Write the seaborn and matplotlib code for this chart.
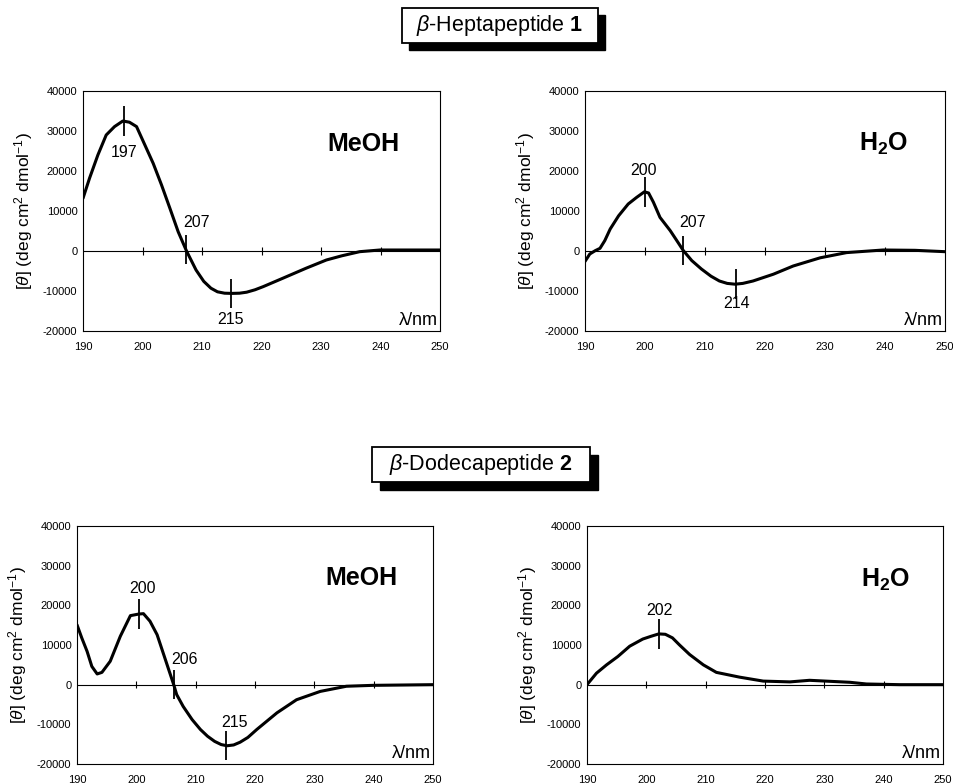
import numpy as np
import pandas as pd
import matplotlib
matplotlib.use("Agg")
import matplotlib.pyplot as plt
from matplotlib.patches import Rectangle
import seaborn as sns

# ---------------- data ----------------
wl_hepta_meoh = [190, 191.1, 192.5, 193.9, 195.3, 196.7, 197.8, 199.0, 200.4, 201.8, 203.2, 204.6, 206.0, 207.4,
                 209.0, 210.3, 211.5, 212.6, 213.8, 215.0, 216.3, 217.5, 218.9, 220.3, 223.6, 227.5, 230.9,
                 233.5, 236.5, 239.9, 250]
th_hepta_meoh = [13170, 18200, 24000, 29000, 31100, 32500, 32200, 31100, 26500, 21900, 16500, 10700, 4800, 0,
                 -4750, -7600, -9300, -10200, -10550, -10600, -10550, -10300, -9700, -8900, -6800, -4300, -2250,
                 -1200, -170, 250, 250]

wl_hepta_h2o = [190, 190.8, 191.7, 192.5, 193.3, 194.2, 195.6, 197.2, 198.6, 199.9, 200.6, 201.4, 202.5, 204.2,
                205.3, 206.4, 207.8, 209.4, 211.0, 212.4, 213.7, 215.0, 216.3, 218, 221.4, 224.7, 229.2, 233.6,
                239.7, 245, 250]
th_hepta_h2o = [-2600, -750, 80, 670, 2600, 5500, 8800, 11750, 13400, 14800, 14500, 12200, 8400, 5100,
                2600, 80, -2400, -4500, -6300, -7500, -8100, -8300, -8100, -7500, -5800, -3750, -1700, -400,
                250, 170, -170]

wl_dodeca_meoh = [190, 190.8, 191.7, 192.5, 193.4, 194.2, 195.6, 197.3, 199.0, 200.4, 201.2, 202.3, 203.5, 204.9,
                  206.3, 206.8, 207.9, 209.4, 210.8, 212.0, 213.2, 214.3, 215.3, 216.4, 217.5, 218.8, 220.3,
                  223.7, 227, 231, 235.4, 239.9, 250]
th_dodeca_meoh = [15100, 11800, 8400, 4600, 2700, 3100, 5900, 12200, 17400, 17800, 17900, 16000, 12600, 6300,
                  0, -2500, -5500, -8800, -11300, -13000, -14300, -15100, -15400, -15200, -14500, -13300, -11300,
                  -7100, -3800, -1700, -400, -170, 0]

wl_dodeca_h2o = [190, 191.6, 193.3, 195.2, 197.2, 199.4, 200.8, 202.1, 203.2, 204.4, 205.6, 207.3, 209.6, 211.8,
                 215.7, 219.7, 224.2, 227.5, 234.3, 237.1, 242.7, 250]
th_dodeca_h2o = [0, 2900, 5000, 7100, 9700, 11500, 12200, 12800, 12700, 11800, 10000, 7600, 5000, 3100,
                 1900, 900, 700, 1100, 600, 170, 0, 0]

# peak markers (wavelength of marker) and their labels
peaks_hepta_meoh = [196.9, 207.3, 214.8]
labels_hepta_meoh = ["197", "207", "215"]
peaks_hepta_h2o = [200.0, 206.4, 215.1]
labels_hepta_h2o = ["200", "207", "214"]
peaks_dodeca_meoh = [200.5, 206.3, 215.1]
labels_dodeca_meoh = ["200", "206", "215"]
peaks_dodeca_h2o = [202.1]
labels_dodeca_h2o = ["202"]

solvents = ["MeOH", r"$\mathbf{H_2O}$", "MeOH", r"$\mathbf{H_2O}$"]
titles = [r"$\beta$-Heptapeptide $\mathbf{1}$", r"$\beta$-Dodecapeptide $\mathbf{2}$"]
xticks = [190, 200, 210, 220, 230, 240, 250]
yticks = [-20000, -10000, 0, 10000, 20000, 30000, 40000]

# ---------------- style ----------------
sns.set_theme(style="white")
plt.rcParams['font.family'] = ['Liberation Sans', 'DejaVu Sans']
plt.rcParams['mathtext.fontset'] = 'custom'
plt.rcParams['mathtext.rm'] = 'Liberation Sans'
plt.rcParams['mathtext.it'] = 'Liberation Sans:italic'
plt.rcParams['mathtext.bf'] = 'Liberation Sans:bold'
plt.rcParams['text.color'] = 'black'
plt.rcParams['axes.labelcolor'] = 'black'
plt.rcParams['xtick.color'] = 'black'
plt.rcParams['ytick.color'] = 'black'

W, H = 954, 784
fig = plt.figure(figsize=(W / 100, H / 100), dpi=100)


def px_rect(l, t, r, b):
    return [l / W, 1 - b / H, (r - l) / W, (b - t) / H]


# layout: axes rectangles (pixels), solvent label pos, label offsets (dx, dy) per peak
panels = [
    dict(rect=px_rect(83, 91, 440, 331), wl=wl_hepta_meoh, th=th_hepta_meoh,
         peaks=peaks_hepta_meoh, labels=labels_hepta_meoh, solv=(0.785, 0.78),
         offs=[(0.0, -7800), (1.7, 6900), (0.0, -6500)]),
    dict(rect=px_rect(585, 91, 945, 331), wl=wl_hepta_h2o, th=th_hepta_h2o,
         peaks=peaks_hepta_h2o, labels=labels_hepta_h2o, solv=(0.83, 0.78),
         offs=[(-0.2, 5300), (1.6, 7100), (0.2, -4800)]),
    dict(rect=px_rect(77, 526, 433, 764), wl=wl_dodeca_meoh, th=th_dodeca_meoh,
         peaks=peaks_dodeca_meoh, labels=labels_dodeca_meoh, solv=(0.80, 0.78),
         offs=[(0.6, 6500), (1.8, 6300), (1.5, 5700)]),
    dict(rect=px_rect(587, 526, 943, 764), wl=wl_dodeca_h2o, th=th_dodeca_h2o,
         peaks=peaks_dodeca_h2o, labels=labels_dodeca_h2o, solv=(0.84, 0.775),
         offs=[(0.1, 6000)]),
]

ylabel = r"[$\theta$] (deg cm$^{2}$ dmol$^{-1}$)"

for i, p in enumerate(panels):
    ax = fig.add_axes(p["rect"])
    df = pd.DataFrame({"wl": p["wl"], "theta": p["th"]})
    ax.axhline(0, color="black", lw=0.8, zorder=1)
    ax.vlines(xticks[1:-1], -900, 900, color="black", lw=0.8, zorder=1)
    sns.lineplot(data=df, x="wl", y="theta", ax=ax, color="black", lw=2.2, sort=False, zorder=3)
    for line in ax.get_lines():
        line.set_solid_joinstyle("round")
    for pk, lab, (dx, dy) in zip(p["peaks"], p["labels"], p["offs"]):
        yc = np.interp(pk, p["wl"], p["th"])
        ax.vlines(pk, yc - 3700, yc + 3700, color="black", lw=1.3, zorder=4)
        ax.text(pk + dx, yc + dy, lab, ha="center", va="center", fontsize=11.5)
    ax.set_xlim(190, 250)
    ax.set_ylim(-20000, 40000)
    ax.set_xticks(xticks)
    ax.set_xticklabels([str(v) for v in xticks], fontsize=8)
    ax.set_yticks(yticks)
    ax.set_yticklabels([str(v) for v in yticks], fontsize=8)
    ax.tick_params(axis="both", length=0, colors="black")
    ax.tick_params(axis="x", pad=8)
    ax.tick_params(axis="y", pad=4)
    ax.set_xlabel("")
    ax.set_ylabel(ylabel, fontsize=12.5, labelpad=6)
    for s in ax.spines.values():
        s.set_color("black")
        s.set_linewidth(0.8)
        s.set_visible(True)
    ax.text(p["solv"][0], p["solv"][1], solvents[i], transform=ax.transAxes,
            ha="center", va="center", fontsize=18, fontweight="bold")
    ax.text(0.995, 0.01, "λ/nm", transform=ax.transAxes, ha="right", va="bottom",
            fontsize=13)

# title boxes
boxes = [(402, 8, 598, 43, 7), (372, 447, 590, 482, 8)]
for (l, t, r, b, sh), title in zip(boxes, titles):
    x0, y0, w, h = px_rect(l, t, r, b)
    fig.patches.append(Rectangle((x0 + sh / W, y0 - sh / H), w, h, transform=fig.transFigure,
                                 facecolor="black", edgecolor="black", zorder=1))
    fig.patches.append(Rectangle((x0, y0), w, h, transform=fig.transFigure,
                                 facecolor="white", edgecolor="black", lw=1.3, zorder=2))
    fig.text(x0 + w / 2, y0 + h / 2, title, ha="center", va="center", fontsize=15.5, zorder=3)

fig.savefig("out.png", dpi=100, facecolor="white")
